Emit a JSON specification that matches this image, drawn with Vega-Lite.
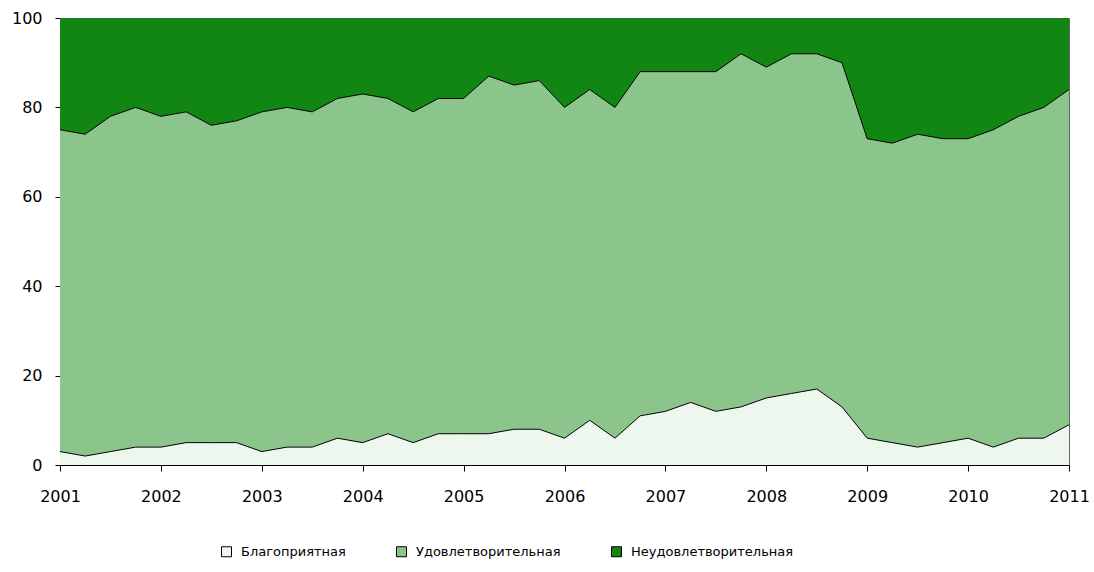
{
  "$schema": "https://vega.github.io/schema/vega-lite/v6.json",
  "autosize": "none",
  "width": 1009,
  "height": 447,
  "padding": {"left": 60, "top": 18, "right": 25, "bottom": 107},
  "background": "white",
  "config": {
    "font": "DejaVu Sans",
    "view": {"stroke": "#666666", "strokeWidth": 1},
    "axis": {"grid": false, "domainColor": "black", "tickColor": "black", "labelColor": "black", "labelFont": "DejaVu Sans", "labelFontSize": 16}
  },
  "data": {
    "values": [
      {"t": 2001.00, "Благоприятная": 3, "Удовлетворительная": 72, "Неудовлетворительная": 25},
      {"t": 2001.25, "Благоприятная": 2, "Удовлетворительная": 72, "Неудовлетворительная": 26},
      {"t": 2001.50, "Благоприятная": 3, "Удовлетворительная": 75, "Неудовлетворительная": 22},
      {"t": 2001.75, "Благоприятная": 4, "Удовлетворительная": 76, "Неудовлетворительная": 20},
      {"t": 2002.00, "Благоприятная": 4, "Удовлетворительная": 74, "Неудовлетворительная": 22},
      {"t": 2002.25, "Благоприятная": 5, "Удовлетворительная": 74, "Неудовлетворительная": 21},
      {"t": 2002.50, "Благоприятная": 5, "Удовлетворительная": 71, "Неудовлетворительная": 24},
      {"t": 2002.75, "Благоприятная": 5, "Удовлетворительная": 72, "Неудовлетворительная": 23},
      {"t": 2003.00, "Благоприятная": 3, "Удовлетворительная": 76, "Неудовлетворительная": 21},
      {"t": 2003.25, "Благоприятная": 4, "Удовлетворительная": 76, "Неудовлетворительная": 20},
      {"t": 2003.50, "Благоприятная": 4, "Удовлетворительная": 75, "Неудовлетворительная": 21},
      {"t": 2003.75, "Благоприятная": 6, "Удовлетворительная": 76, "Неудовлетворительная": 18},
      {"t": 2004.00, "Благоприятная": 5, "Удовлетворительная": 78, "Неудовлетворительная": 17},
      {"t": 2004.25, "Благоприятная": 7, "Удовлетворительная": 75, "Неудовлетворительная": 18},
      {"t": 2004.50, "Благоприятная": 5, "Удовлетворительная": 74, "Неудовлетворительная": 21},
      {"t": 2004.75, "Благоприятная": 7, "Удовлетворительная": 75, "Неудовлетворительная": 18},
      {"t": 2005.00, "Благоприятная": 7, "Удовлетворительная": 75, "Неудовлетворительная": 18},
      {"t": 2005.25, "Благоприятная": 7, "Удовлетворительная": 80, "Неудовлетворительная": 13},
      {"t": 2005.50, "Благоприятная": 8, "Удовлетворительная": 77, "Неудовлетворительная": 15},
      {"t": 2005.75, "Благоприятная": 8, "Удовлетворительная": 78, "Неудовлетворительная": 14},
      {"t": 2006.00, "Благоприятная": 6, "Удовлетворительная": 74, "Неудовлетворительная": 20},
      {"t": 2006.25, "Благоприятная": 10, "Удовлетворительная": 74, "Неудовлетворительная": 16},
      {"t": 2006.50, "Благоприятная": 6, "Удовлетворительная": 74, "Неудовлетворительная": 20},
      {"t": 2006.75, "Благоприятная": 11, "Удовлетворительная": 77, "Неудовлетворительная": 12},
      {"t": 2007.00, "Благоприятная": 12, "Удовлетворительная": 76, "Неудовлетворительная": 12},
      {"t": 2007.25, "Благоприятная": 14, "Удовлетворительная": 74, "Неудовлетворительная": 12},
      {"t": 2007.50, "Благоприятная": 12, "Удовлетворительная": 76, "Неудовлетворительная": 12},
      {"t": 2007.75, "Благоприятная": 13, "Удовлетворительная": 79, "Неудовлетворительная": 8},
      {"t": 2008.00, "Благоприятная": 15, "Удовлетворительная": 74, "Неудовлетворительная": 11},
      {"t": 2008.25, "Благоприятная": 16, "Удовлетворительная": 76, "Неудовлетворительная": 8},
      {"t": 2008.50, "Благоприятная": 17, "Удовлетворительная": 75, "Неудовлетворительная": 8},
      {"t": 2008.75, "Благоприятная": 13, "Удовлетворительная": 77, "Неудовлетворительная": 10},
      {"t": 2009.00, "Благоприятная": 6, "Удовлетворительная": 67, "Неудовлетворительная": 27},
      {"t": 2009.25, "Благоприятная": 5, "Удовлетворительная": 67, "Неудовлетворительная": 28},
      {"t": 2009.50, "Благоприятная": 4, "Удовлетворительная": 70, "Неудовлетворительная": 26},
      {"t": 2009.75, "Благоприятная": 5, "Удовлетворительная": 68, "Неудовлетворительная": 27},
      {"t": 2010.00, "Благоприятная": 6, "Удовлетворительная": 67, "Неудовлетворительная": 27},
      {"t": 2010.25, "Благоприятная": 4, "Удовлетворительная": 71, "Неудовлетворительная": 25},
      {"t": 2010.50, "Благоприятная": 6, "Удовлетворительная": 72, "Неудовлетворительная": 22},
      {"t": 2010.75, "Благоприятная": 6, "Удовлетворительная": 74, "Неудовлетворительная": 20},
      {"t": 2011.00, "Благоприятная": 9, "Удовлетворительная": 75, "Неудовлетворительная": 16}
    ]
  },
  "transform": [
    {"fold": ["Благоприятная", "Удовлетворительная", "Неудовлетворительная"], "as": ["s", "v"]},
    {"calculate": "indexof(['Благоприятная','Удовлетворительная','Неудовлетворительная'], datum.s)", "as": "k"}
  ],
  "encoding": {
    "x": {
      "field": "t", "type": "quantitative",
      "scale": {"domain": [2001, 2011], "nice": false, "zero": false},
      "axis": {"title": null, "values": [2001, 2002, 2003, 2004, 2005, 2006, 2007, 2008, 2009, 2010, 2011], "format": "d", "tickSize": 6, "labelPadding": 17, "labelFlush": false, "labelOverlap": false}
    }
  },
  "layer": [
    {
      "mark": {"type": "area", "interpolate": "linear"},
      "encoding": {
        "y": {
          "field": "v", "type": "quantitative", "stack": "zero",
          "scale": {"domain": [0, 100], "nice": false},
          "axis": {"title": null, "values": [0, 20, 40, 60, 80, 100], "tickSize": 5, "labelPadding": 13}
        },
        "color": {
          "field": "s", "type": "nominal",
          "scale": {"domain": ["Благоприятная", "Удовлетворительная", "Неудовлетворительная"], "range": ["#eef7ee", "#8cc58c", "#128612"]},
          "legend": {
            "title": null, "orient": "none", "direction": "horizontal",
            "legendX": 160, "legendY": 527,
            "symbolType": "square", "symbolSize": 100, "symbolStrokeColor": "black", "symbolStrokeWidth": 1, "symbolOpacity": 1,
            "labelFontSize": 13, "labelColor": "black", "labelOffset": 8, "labelLimit": 0, "columnPadding": 48
          }
        },
        "order": {"field": "k", "type": "quantitative"}
      }
    },
    {
      "transform": [{"filter": "datum.k < 2"}],
      "mark": {"type": "line", "color": "black", "strokeWidth": 1, "interpolate": "linear"},
      "encoding": {
        "y": {"field": "v", "type": "quantitative", "stack": "zero"},
        "detail": {"field": "s", "type": "nominal"},
        "order": {"field": "k", "type": "quantitative"}
      }
    }
  ]
}
